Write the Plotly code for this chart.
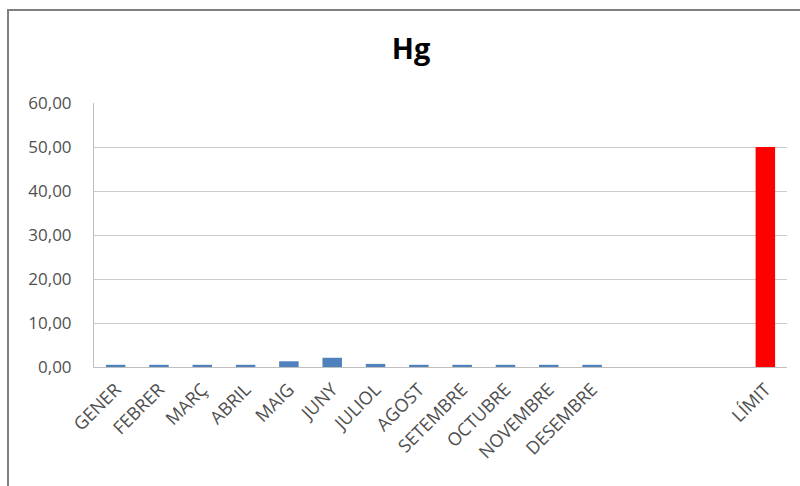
import plotly.graph_objects as go

categories = ["GENER", "FEBRER", "MARÇ", "ABRIL", "MAIG", "JUNY", "JULIOL",
              "AGOST", "SETEMBRE", "OCTUBRE", "NOVEMBRE", "DESEMBRE",
              " ", "  ", "   ", "LÍMIT"]
month_values = [0.5, 0.5, 0.5, 0.5, 1.3, 2.1, 0.7, 0.5, 0.5, 0.5, 0.5, 0.5]
limit_value = 50.0
y_ticks = [0, 10, 20, 30, 40, 50, 60]

values = month_values + [None, None, None] + [limit_value]
colors = ["#4F81BD"] * len(month_values) + ["#4F81BD"] * 3 + ["#FF0000"]

W, H = 800, 486
L, R, T, B = 94, 13, 103, 119
pw, ph = W - L - R, H - T - B

fig = go.Figure()
fig.add_trace(go.Bar(x=categories, y=values, marker=dict(color=colors, line=dict(width=0)),
                     showlegend=False))

def px_x(p):
    return (p - L) / pw

def px_y(p):
    return (H - B - p) / ph

tick_font = dict(family="Open Sans", size=17, color="#505050")

fig.update_layout(
    width=W, height=H,
    margin=dict(l=L, r=R, t=T, b=B),
    paper_bgcolor="white", plot_bgcolor="white",
    separators=", ",
    bargap=0.55,
    title=dict(text="<b>Hg</b>", x=411 / W, xref="container", xanchor="center",
               y=1 - 49 / H, yref="container", yanchor="middle",
               font=dict(family="Open Sans", size=29, color="#000000")),
    font=tick_font,
    shapes=[
        dict(type="line", xref="paper", yref="paper",
             x0=px_x(8), x1=px_x(8), y0=px_y(10), y1=px_y(490),
             line=dict(color="#808080", width=2)),
        dict(type="line", xref="paper", yref="paper",
             x0=px_x(7), x1=px_x(805), y0=px_y(10), y1=px_y(10),
             line=dict(color="#808080", width=2)),
    ],
)
fig.update_yaxes(range=[0, 60], tickvals=y_ticks, tickformat=".2f",
                 showgrid=True, gridcolor="#cccccc", gridwidth=1,
                 showline=True, linecolor="#bfbfbf", linewidth=1,
                 ticks="outside", ticklen=18, tickcolor="rgba(0,0,0,0)",
                 tickfont=tick_font, zeroline=False, fixedrange=True)
fig.update_xaxes(type="category", tickangle=-45,
                 showline=True, linecolor="#bfbfbf", linewidth=1,
                 ticks="outside", ticklen=4, tickcolor="rgba(0,0,0,0)",
                 tickfont=dict(family="Open Sans", size=18, color="#505050"),
                 showgrid=False, fixedrange=True)

html = fig.to_html(include_plotlyjs=True, full_html=True,
                   config={"displayModeBar": False})
html = html.replace("<body>", '<body style="margin:0;padding:0;">', 1)
with open("out.html", "w", encoding="utf-8") as f:
    f.write(html)
